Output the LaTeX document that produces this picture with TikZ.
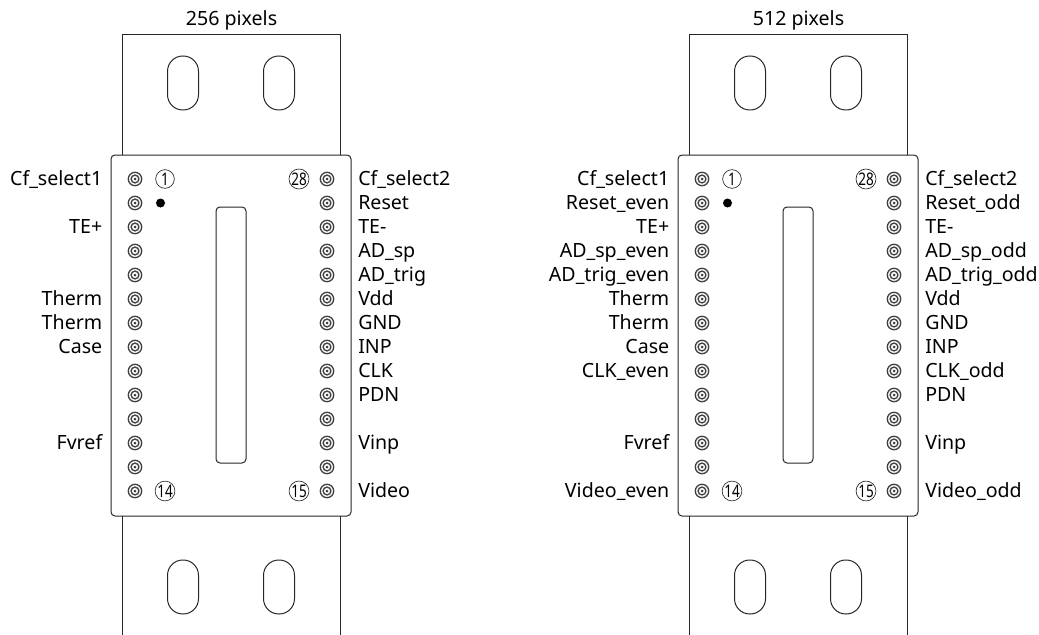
\documentclass[tikz,border=0pt]{standalone}
\usepackage{fontspec}
\setmainfont{Noto Sans}
\newfontfamily\numfont[FakeStretch=0.78]{Noto Sans}
\tikzset{
    every node/.style={font=\fontsize{14.7}{17}\selectfont},
    partline/.style={draw=black!85,line width=0.75pt},
    pinlabel/.style={inner sep=0pt},
    pinnum/.style={circle,draw=black!85,line width=0.5pt,minimum size=14pt,inner sep=0pt,font=\numfont\fontsize{13}{13}\selectfont}
}
% one ring contact
\newcommand{\ringpin}[2]{%
    \draw[line width=1pt,black!75] (#1,#2) circle (6.7) circle (3.9);
    \fill[black!75] (#1,#2) circle (1.5);
}
% one mounting slot
\newcommand{\mountslot}[2]{%
    \draw[partline,rounded corners=11.5pt] (#1,#2) rectangle ++(31,54);
}
\begin{document}
\begin{tikzpicture}[x=0.75pt,y=-0.75pt]
    \useasboundingbox (0,0) rectangle (1039,635);

    \foreach \dev/\dx/\title in {a/0/256 pixels, b/567/512 pixels} {
        \begin{scope}[xshift=\dx*0.75pt]
            % Flanges and body
            \draw[partline] (122,155) -- (122,35) -- (340,35) -- (340,155);
            \draw[partline] (122,516) -- (122,635);
            \draw[partline] (340,516) -- (340,635);
            \draw[partline,rounded corners=3pt] (111,155) rectangle (351,516);
            \draw[partline,rounded corners=3pt] (216,207) rectangle (246,463);
            \node[pinlabel,anchor=base] (title\dev) at (231.5,25.5) {\title};

            % Mounting slots
            \mountslot{167.5}{56}
            \mountslot{263.5}{56}
            \mountslot{167.5}{560}
            \mountslot{263.5}{560}

            % Contacts
            \foreach \row in {0,...,13} {
                \ringpin{135}{179+24*\row}
                \ringpin{327}{179+24*\row}
            }

            % Pin numbers
            \node[pinnum] (one\dev) at (165,179) {1};
            \node[pinnum] (last\dev) at (299,179) {28};
            \node[pinnum] (mida\dev) at (165,491) {14};
            \node[pinnum] (midb\dev) at (299,491) {15};
            \fill (160.5,203) circle (4.5);
        \end{scope}
    }

    % Left device labels
    \foreach \row/\txt in {0/Cf\_select1, 2/TE+, 5/Therm, 6/Therm, 7/Case, 11/Fvref}
        \node[pinlabel,anchor=base east] (al\row) at (102.5,185.5+24*\row) {\txt};
    \foreach \row/\txt in {0/Cf\_select2, 1/Reset, 2/TE-, 3/AD\_sp, 4/AD\_trig, 5/Vdd, 6/GND, 7/INP, 8/CLK, 9/PDN, 11/Vinp, 13/Video}
        \node[pinlabel,anchor=base west] (ar\row) at (358,185.5+24*\row) {\txt};

    % Right device labels
    \foreach \row/\txt in {0/Cf\_select1, 1/Reset\_even, 2/TE+, 3/AD\_sp\_even, 4/AD\_trig\_even, 5/Therm, 6/Therm, 7/Case, 8/CLK\_even, 11/Fvref, 13/Video\_even}
        \node[pinlabel,anchor=base east] (bl\row) at (669.5,185.5+24*\row) {\txt};
    \foreach \row/\txt in {0/Cf\_select2, 1/Reset\_odd, 2/TE-, 3/AD\_sp\_odd, 4/AD\_trig\_odd, 5/Vdd, 6/GND, 7/INP, 8/CLK\_odd, 9/PDN, 11/Vinp, 13/Video\_odd}
        \node[pinlabel,anchor=base west] (br\row) at (925,185.5+24*\row) {\txt};
\end{tikzpicture}
\end{document}
